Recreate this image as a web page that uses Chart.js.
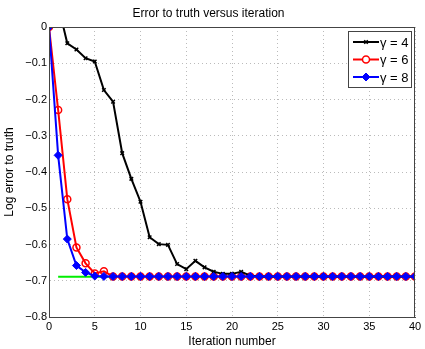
<!DOCTYPE html>
<html>
<head>
<meta charset="utf-8">
<script src="https://cdn.jsdelivr.net/npm/chart.js@4.4.1/dist/chart.umd.min.js"></script>
<style>
  html, body { margin: 0; padding: 0; background: #fff; }
  #wrap { width: 425px; height: 349px; }
</style>
</head>
<body>
<div id="wrap"><canvas id="chart"></canvas></div>
<script>
const iterations = [0, 1, 2, 3, 4, 5, 6, 7, 8, 9, 10, 11, 12, 13, 14, 15, 16, 17, 18, 19, 20,
    21, 22, 23, 24, 25, 26, 27, 28, 29, 30, 31, 32, 33, 34, 35, 36, 37, 38, 39, 40];

const gamma4 = [0, 0.06, -0.045, -0.062, -0.086, -0.095, -0.174, -0.206, -0.348, -0.419, -0.482,
    -0.58, -0.599, -0.601, -0.654, -0.668, -0.645, -0.663, -0.675, -0.681, -0.681,
    -0.675, -0.686, -0.688, -0.688, -0.688, -0.688, -0.688, -0.688, -0.688, -0.688,
    -0.688, -0.688, -0.688, -0.688, -0.688, -0.688, -0.688, -0.688, -0.688, -0.688];

const gamma6 = [0, -0.229, -0.475, -0.608, -0.652, -0.68, -0.674, -0.688, -0.688, -0.688, -0.688,
    -0.688, -0.688, -0.688, -0.688, -0.688, -0.688, -0.688, -0.688, -0.688, -0.688,
    -0.688, -0.688, -0.688, -0.688, -0.688, -0.688, -0.688, -0.688, -0.688, -0.688,
    -0.688, -0.688, -0.688, -0.688, -0.688, -0.688, -0.688, -0.688, -0.688, -0.688];

const gamma8 = [0, -0.354, -0.585, -0.658, -0.677, -0.687, -0.688, -0.688, -0.688, -0.688, -0.688,
    -0.688, -0.688, -0.688, -0.688, -0.688, -0.688, -0.688, -0.688, -0.688, -0.688,
    -0.688, -0.688, -0.688, -0.688, -0.688, -0.688, -0.688, -0.688, -0.688, -0.688,
    -0.688, -0.688, -0.688, -0.688, -0.688, -0.688, -0.688, -0.688, -0.688, -0.688];

// reference level (green line, no legend entry)
const truthX = [1, 40];
const truthY = [-0.689, -0.689];

const seriesLabels = ["γ = 4", "γ = 6", "γ = 8"];
const legendFills = ["#000", "#fff", "#0000ff"];

const FONT = "'Liberation Sans', Arial, Helvetica, sans-serif";

function toPoints(xs, ys) {
    return xs.map((x, i) => ({ x: x, y: ys[i] }));
}

// box around the plot like matlab
const boxPlugin = {
    id: "box",
    afterDraw(chart) {
        const a = chart.chartArea;
        const ctx = chart.ctx;
        ctx.save();
        ctx.strokeStyle = "#444";
        ctx.lineWidth = 1;
        ctx.strokeRect(a.left + 0.5, a.top + 0.5, a.right - a.left - 1, a.bottom - a.top);
        ctx.restore();
    }
};

// legend box in the top right corner
const legendPlugin = {
    id: "boxLegend",
    afterDraw(chart) {
        const ctx = chart.ctx;
        const a = chart.chartArea;
        const x0 = a.right - 67, y0 = a.top + 4, w = 63, h = 56;
        ctx.save();
        ctx.fillStyle = "#fff";
        ctx.fillRect(x0, y0, w, h);
        ctx.strokeStyle = "#444";
        ctx.lineWidth = 1;
        ctx.strokeRect(x0 + 0.5, y0 + 0.5, w, h);
        ctx.font = "13px " + FONT;
        ctx.textBaseline = "middle";
        for (let i = 0; i < 3; i++) {
            const ds = chart.data.datasets[i];
            const yy = y0 + 11 + i * 17.5;
            ctx.strokeStyle = ds.borderColor;
            ctx.lineWidth = 2;
            ctx.beginPath();
            ctx.moveTo(x0 + 5, yy);
            ctx.lineTo(x0 + 31, yy);
            ctx.stroke();
            ctx.fillStyle = legendFills[i];
            ctx.lineWidth = ds.pointBorderWidth;
            Chart.helpers.drawPoint(ctx, {
                pointStyle: ds.pointStyle,
                radius: ds.pointRadius,
                borderWidth: ds.pointBorderWidth
            }, x0 + 18, yy);
            ctx.fillStyle = "#000";
            ctx.fillText(seriesLabels[i], x0 + 32, yy + 1);
        }
        ctx.restore();
    }
};

const ctx = document.getElementById("chart").getContext("2d");

new Chart(ctx, {
    type: "line",
    data: {
        datasets: [
            {
                label: seriesLabels[0],
                data: toPoints(iterations, gamma4),
                borderColor: "#000",
                backgroundColor: "#000",
                borderWidth: 2,
                pointStyle: "crossRot",
                pointRadius: 2.5,
                pointBorderWidth: 1.5,
                order: 1
            },
            {
                label: seriesLabels[1],
                data: toPoints(iterations, gamma6),
                borderColor: "#ff0000",
                backgroundColor: "rgba(0,0,0,0)",
                borderWidth: 2,
                pointStyle: "circle",
                pointRadius: 3.5,
                pointBorderWidth: 1.5,
                order: 2
            },
            {
                label: seriesLabels[2],
                data: toPoints(iterations, gamma8),
                borderColor: "#0000ff",
                backgroundColor: "#0000ff",
                borderWidth: 2,
                pointStyle: "rectRot",
                pointRadius: 4,
                pointBorderWidth: 1,
                order: 0
            },
            {
                label: "truth",
                data: toPoints(truthX, truthY),
                borderColor: "#00ee00",
                backgroundColor: "#00ee00",
                borderWidth: 2,
                pointRadius: 0,
                order: 3
            }
        ]
    },
    options: {
        responsive: true,
        maintainAspectRatio: false,
        animation: false,
        layout: { padding: { left: 2, right: 10, top: 0, bottom: 0 } },
        plugins: {
            legend: { display: false },
            tooltip: { enabled: false },
            title: {
                display: true,
                text: "Error to truth versus iteration",
                color: "#000",
                font: { family: FONT, size: 12, weight: "normal" },
                padding: { top: 6, bottom: 6.6 }
            }
        },
        scales: {
            x: {
                type: "linear",
                min: 0,
                max: 40,
                afterFit(scale) { scale.height = 32; },
                ticks: {
                    stepSize: 5,
                    color: "#000",
                    font: { family: FONT, size: 11 },
                    padding: 3,
                    maxRotation: 0
                },
                grid: {
                    color: "#bbb",
                    drawTicks: false,
                    tickLength: 0
                },
                border: { color: "#444", dash: [1, 3], display: true },
                title: {
                    display: true,
                    text: "Iteration number",
                    color: "#000",
                    font: { family: FONT, size: 12 },
                    padding: { top: 0, bottom: 0 }
                }
            },
            y: {
                min: -0.8,
                max: 0,
                afterFit(scale) { scale.width = 47; },
                ticks: {
                    stepSize: 0.1,
                    color: "#000",
                    font: { family: FONT, size: 11 },
                    padding: 2,
                    callback: (v) => Math.abs(v) < 1e-9 ? "0" : "\u2212" + Math.abs(v).toFixed(1)
                },
                grid: {
                    color: "#bbb",
                    drawTicks: false,
                    tickLength: 0
                },
                border: { color: "#444", dash: [1, 3], display: true },
                title: {
                    display: true,
                    text: "Log error to truth",
                    color: "#000",
                    font: { family: FONT, size: 12 },
                    padding: { top: 0, bottom: 0 }
                }
            }
        }
    },
    plugins: [boxPlugin, legendPlugin]
});
</script>
</body>
</html>
